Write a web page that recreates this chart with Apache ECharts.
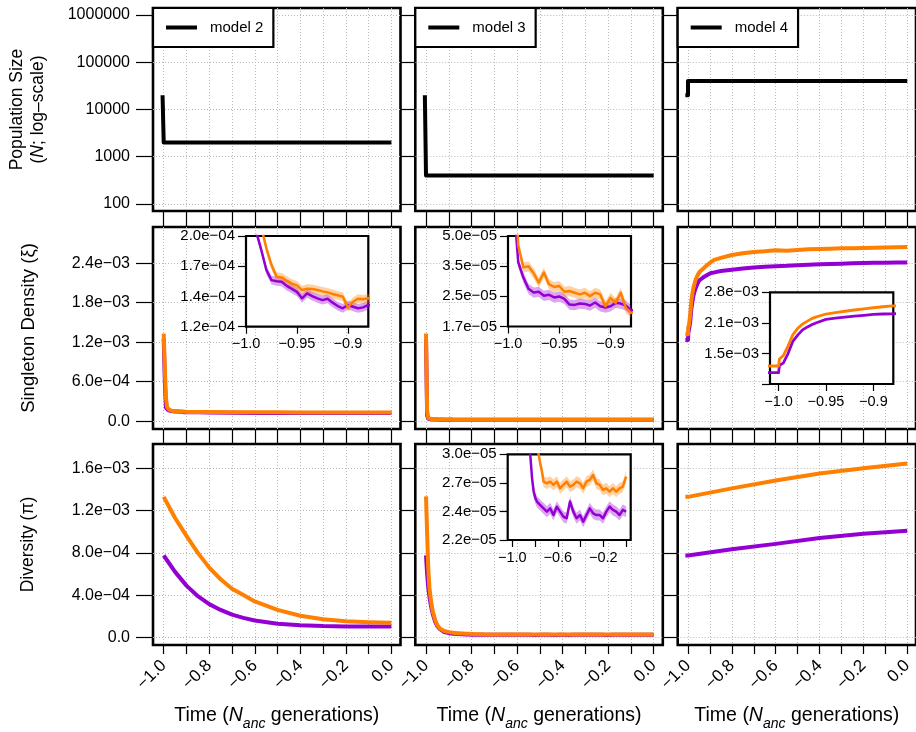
<!DOCTYPE html>
<html><head><meta charset="utf-8">
<script src="https://cdn.jsdelivr.net/npm/echarts@6/dist/echarts.min.js"></script>
<style>html,body{margin:0;padding:0;background:#fff}#c{width:916px;height:732px}</style>
</head><body><div id="c"></div><script>
// ---------------- DATA ----------------
const models = ['model 2', 'model 3', 'model 4'];

// Row 1: population size (N)
const popTime2 = [-1.005, -1.0, -1.0, 0.0];
const popSize2 = [20000, 20000, 2000, 2000];
const popTime3 = [-1.005, -1.0, -1.0, 0.0];
const popSize3 = [20000, 20000, 400, 400];
const popTime4 = [-1.012, -1.0, -1.0, 0.0];
const popSize4 = [20000, 20000, 40000, 40000];

// Row 2: singleton density, models 2 & 3 (shared time grid)
const sfsTime = [-1.0, -0.995, -0.99, -0.985, -0.98, -0.975, -0.97, -0.965, -0.96, -0.955, -0.95, -0.945, -0.94, -0.935, -0.93, -0.925, -0.92, -0.915, -0.91, -0.905, -0.9, -0.895, -0.89, -0.885, -0.88, -0.85, -0.8, -0.7, -0.6, -0.5, -0.4, -0.3, -0.2, -0.1, 0.0];
// model 2, units of 1e-4
const sfsOrange2 = [13.3, 8.0, 3.5, 2.1, 1.866, 1.698, 1.59, 1.584, 1.555, 1.53, 1.515, 1.475, 1.486, 1.484, 1.475, 1.464, 1.456, 1.443, 1.432, 1.421, 1.338, 1.381, 1.405, 1.40, 1.408, 1.39, 1.37, 1.35, 1.34, 1.33, 1.32, 1.32, 1.31, 1.31, 1.30];
const sfsPurple2 = [12.5, 6.0, 2.05, 1.848, 1.651, 1.56, 1.55, 1.546, 1.51, 1.485, 1.46, 1.408, 1.448, 1.426, 1.408, 1.394, 1.405, 1.374, 1.348, 1.331, 1.356, 1.343, 1.331, 1.338, 1.356, 1.33, 1.30, 1.27, 1.25, 1.24, 1.23, 1.23, 1.22, 1.22, 1.22];
// model 3, units of 1e-5
const sfsOrange3 = [133, 15, 4.47, 3.453, 3.50, 3.227, 2.886, 3.253, 2.83, 2.741, 2.774, 2.592, 2.613, 2.561, 2.511, 2.561, 2.461, 2.561, 2.511, 2.184, 2.413, 2.273, 2.561, 2.141, 2.02, 2.15, 2.10, 2.08, 2.06, 2.05, 2.04, 2.03, 2.02, 2.02, 2.01];
const sfsPurple3 = [125, 8, 3.666, 3.064, 2.687, 2.571, 2.592, 2.471, 2.501, 2.422, 2.451, 2.384, 2.228, 2.219, 2.254, 2.245, 2.202, 2.282, 2.184, 2.15, 2.184, 2.273, 2.254, 2.202, 2.082, 2.10, 2.08, 2.06, 2.05, 2.04, 2.03, 2.02, 2.02, 2.01, 2.00];
// model 4 singleton density, units of 1e-3
const sfsTime4 = [-1.012, -1.0, -0.999, -0.995, -0.99, -0.985, -0.98, -0.975, -0.97, -0.965, -0.96, -0.95, -0.94, -0.93, -0.92, -0.91, -0.9, -0.89, -0.88, -0.85, -0.8, -0.75, -0.7, -0.65, -0.6, -0.55, -0.5, -0.45, -0.4, -0.35, -0.3, -0.25, -0.2, -0.15, -0.1, -0.05, 0.0];
const sfsOrange4 = [1.32, 1.32, 1.42, 1.47, 1.62, 1.82, 1.94, 2.03, 2.09, 2.15, 2.19, 2.255, 2.29, 2.32, 2.35, 2.38, 2.405, 2.43, 2.45, 2.48, 2.525, 2.55, 2.57, 2.58, 2.595, 2.59, 2.60, 2.612, 2.615, 2.62, 2.626, 2.628, 2.632, 2.636, 2.64, 2.641, 2.645];
const sfsPurple4 = [1.232, 1.232, 1.33, 1.36, 1.5, 1.70, 1.81, 1.91, 1.97, 2.02, 2.06, 2.135, 2.16, 2.185, 2.205, 2.225, 2.245, 2.255, 2.26, 2.28, 2.30, 2.32, 2.335, 2.345, 2.355, 2.36, 2.37, 2.375, 2.383, 2.388, 2.393, 2.398, 2.402, 2.405, 2.407, 2.409, 2.41];

// Row 3: diversity
const piTime2 = [-1.0, -0.95, -0.9, -0.85, -0.8, -0.75, -0.7, -0.65, -0.6, -0.5, -0.4, -0.3, -0.2, -0.1, 0.0];
const piOrange2 = [1.33, 1.13, 0.96, 0.80, 0.66, 0.55, 0.46, 0.40, 0.34, 0.26, 0.205, 0.172, 0.152, 0.143, 0.138]; // 1e-3
const piPurple2 = [0.775, 0.62, 0.49, 0.39, 0.315, 0.26, 0.215, 0.185, 0.16, 0.13, 0.115, 0.107, 0.104, 0.103, 0.102]; // 1e-3
const piTime3 = [-1.0, -0.995, -0.99, -0.985, -0.98, -0.975, -0.97, -0.96, -0.95, -0.94, -0.92, -0.9, -0.88, -0.86, -0.841, -0.826, -0.812, -0.797, -0.783, -0.768, -0.754, -0.739, -0.725, -0.696, -0.667, -0.638, -0.609, -0.58, -0.551, -0.522, -0.493, -0.464, -0.435, -0.406, -0.377, -0.348, -0.319, -0.29, -0.261, -0.232, -0.203, -0.174, -0.145, -0.116, -0.087, -0.058, -0.029, 0.0];
const piOrange3 = [133.4, 98, 65, 47, 38, 30, 24.5, 16.5, 11.5, 8.5, 6.0, 5.0, 4.4, 4.0, 3.7, 3.5, 3.35, 3.2, 3.08, 3.0, 2.9, 2.818, 2.717, 2.701, 2.717, 2.685, 2.717, 2.653, 2.685, 2.717, 2.669, 2.685, 2.717, 2.701, 2.653, 2.717, 2.734, 2.784, 2.701, 2.685, 2.637, 2.653, 2.621, 2.653, 2.621, 2.653, 2.669, 2.767]; // 1e-5
const piPurple3 = [77.7, 60, 47, 39, 32, 26.5, 22, 15, 10.5, 8.0, 5.0, 4.0, 3.5, 3.2, 2.98, 2.75, 2.621, 2.56, 2.528, 2.51, 2.497, 2.48, 2.467, 2.438, 2.467, 2.408, 2.482, 2.438, 2.394, 2.38, 2.528, 2.438, 2.38, 2.408, 2.351, 2.408, 2.467, 2.423, 2.408, 2.408, 2.38, 2.438, 2.482, 2.453, 2.438, 2.408, 2.453, 2.438]; // 1e-5
const piTime4 = [-1.012, -1.0, -0.8, -0.6, -0.4, -0.2, 0.0];
const piOrange4 = [1.33, 1.33, 1.41, 1.485, 1.55, 1.60, 1.645]; // 1e-3
const piPurple4 = [0.775, 0.775, 0.835, 0.885, 0.94, 0.98, 1.01]; // 1e-3

// relative half-widths of the confidence bands seen in the insets
const bandSfs2 = 0.025, bandSfs3 = 0.06, bandPi3 = 0.02;

// Tick values / labels
const mainXTicks = [-1.0, -0.9, -0.8, -0.7, -0.6, -0.5, -0.4, -0.3, -0.2, -0.1, 0.0];
const mainXLabels = [-1.0, -0.8, -0.6, -0.4, -0.2, 0.0];
const popTicks = [100, 1000, 10000, 100000, 1000000];
const sfsTicks = [0, 6e-4, 1.2e-3, 1.8e-3, 2.4e-3];
const piTicks = [0, 4e-4, 8e-4, 1.2e-3, 1.6e-3];
const insetXTicksA = [-1.0, -0.95, -0.9];
const insetXLabelsA = ['\u22121.0', '\u22120.95', '\u22120.9'];
const insetXTicksB = [-1.0, -0.8, -0.6, -0.4, -0.2, 0.0];
const insetXLabelVB = [-1.0, -0.6, -0.2];
const insetXLabelsB = ['\u22121.0', '\u22120.6', '\u22120.2'];
const inY2Ticks = [1.2e-4, 1.4227e-4, 1.6867e-4, 2.0e-4];
const inY2Labels = ['1.2e\u221204', '1.4e\u221204', '1.7e\u221204', '2.0e\u221204'];
const inY3Ticks = [1.72e-5, 2.455e-5, 3.504e-5, 5.0e-5];
const inY3Labels = ['1.7e\u221205', '2.5e\u221205', '3.5e\u221205', '5.0e\u221205'];
const inY4Ticks = [1.097e-3, 1.503e-3, 2.059e-3, 2.82e-3];
const inY4Labels = ['', '1.5e\u221203', '2.1e\u221203', '2.8e\u221203'];
const inYdTicks = [2.2e-5, 2.4397e-5, 2.7055e-5, 3.0e-5];
const inYdLabels = ['2.2e\u221205', '2.4e\u221205', '2.7e\u221205', '3.0e\u221205'];

// ---------------- STYLE / LAYOUT ----------------
const FONT = '"Liberation Sans", Arial, Helvetica, sans-serif';
const ORANGE = '#FF7F00', PURPLE = '#9400D3';
const ORANGE_BAND = 'rgba(255,127,0,0.35)', PURPLE_BAND = 'rgba(148,0,211,0.35)';
const colLeft = [153, 415.3, 677.7], colWidth = 247.5;
const rowTop = [8, 227, 444], rowHeight = [203, 202, 203];
const X_MIN = -1.047, X_MAX = 0.04;
const GRIDLINE = {show: true, lineStyle: {type: [1, 2], color: '#b8b8b8', width: 1}};

function fmtExp(v) {
  if (Math.abs(v) < 1e-12) return '0.0';
  const p = v.toExponential(1).split('e');
  const e = parseInt(p[1], 10);
  return p[0] + 'e' + (e < 0 ? '\u2212' : '+') + String(Math.abs(e)).padStart(2, '0');
}
function fmtX(v) { return (Math.abs(v) < 1e-9 ? '0.0' : v.toFixed(1)).replace('-', '\u2212'); }
function lookup(ticks, labels) {
  return function (v) {
    let best = 0;
    for (let i = 1; i < ticks.length; i++) if (Math.abs(ticks[i] - v) < Math.abs(ticks[best] - v)) best = i;
    return labels[best];
  };
}

const grids = [], xAxes = [], yAxes = [], series = [];

const rowY = [
  {type: 'log', min: 70.8, max: 1.413e6, ticks: popTicks, fmt: v => String(Math.round(v))},
  {type: 'value', min: -1.2e-4, max: 2.95e-3, ticks: sfsTicks, fmt: fmtExp},
  {type: 'value', min: -7.2e-5, max: 1.83e-3, ticks: piTicks, fmt: fmtExp}
];
const yNames = [
  '{a|Population Size}\n{a|(}{i|N}{a|; log\u2013scale)}',
  '{b|Singleton Density (\u03BE)}',
  '{a|Diversity (\u03C0)}'
];
const yNameGap = [104, 114, 114];
const titleRich = {
  a: {fontSize: 17.5, fontFamily: FONT, color: '#000', lineHeight: 21},
  b: {fontSize: 18.5, fontFamily: FONT, color: '#000', lineHeight: 21},
  i: {fontSize: 17.5, fontFamily: FONT, color: '#000', lineHeight: 21, fontStyle: 'italic'}
};
const xTitle = '{t|Time (}{i|N}{s|anc}{t| generations)}';
const xTitleRich = {
  t: {fontSize: 19.5, fontFamily: FONT, color: '#000', lineHeight: 30},
  i: {fontSize: 19.5, fontFamily: FONT, color: '#000', lineHeight: 30, fontStyle: 'italic'},
  s: {fontSize: 14, fontFamily: FONT, color: '#000', lineHeight: 18, fontStyle: 'italic', verticalAlign: 'bottom'}
};

for (let r = 0; r < 3; r++) {
  for (let c = 0; c < 3; c++) {
    const idx = grids.length;
    grids.push({left: colLeft[c], top: rowTop[r], width: colWidth, height: rowHeight[r], show: true,
      backgroundColor: '#fff', borderColor: '#000', borderWidth: 2.6, z: 0});
    xAxes.push({
      gridIndex: idx, type: 'value', min: X_MIN, max: X_MAX, position: 'bottom',
      axisLine: {show: false, onZero: false},
      axisTick: {show: true, inside: false, length: r < 2 ? 16 : 9, lineStyle: {color: '#000', width: 1.2}, customValues: mainXTicks},
      axisLabel: {show: r === 2, customValues: mainXLabels, rotate: 45, margin: 18, fontSize: 17, color: '#000', fontFamily: FONT, formatter: fmtX},
      splitLine: GRIDLINE,
      name: r === 2 ? xTitle : '', nameLocation: 'middle', nameGap: 56,
      nameTextStyle: {rich: xTitleRich}
    });
    const ry = rowY[r];
    yAxes.push({
      gridIndex: idx, type: ry.type, min: ry.min, max: ry.max, position: 'left',
      axisLine: {show: false, onZero: false},
      axisTick: {show: true, inside: false, length: c === 0 ? 17 : 15, lineStyle: {color: '#000', width: 1.2}, customValues: ry.ticks},
      axisLabel: {show: c === 0, customValues: ry.ticks, margin: 23, fontSize: 16, color: '#000', fontFamily: FONT, formatter: ry.fmt},
      splitLine: GRIDLINE,
      name: c === 0 ? yNames[r] : '', nameLocation: 'middle', nameRotate: 90, nameGap: yNameGap[r],
      nameTextStyle: {rich: titleRich}
    });
  }
}

// insets: grid indices 9..12
const insets = [
  {left: 246, top: 236, width: 122.3, height: 90.7, xmin: -1.0, xmax: -0.88, xt: insetXTicksA, xl: insetXTicksA, xf: lookup(insetXTicksA, insetXLabelsA), ymin: 1.1999e-4, ymax: 2.0001e-4, yt: inY2Ticks, yf: lookup(inY2Ticks, inY2Labels)},
  {left: 508, top: 236, width: 123, height: 90.5, xmin: -1.0, xmax: -0.88, xt: insetXTicksA, xl: insetXTicksA, xf: lookup(insetXTicksA, insetXLabelsA), ymin: 1.7199e-5, ymax: 5.0001e-5, yt: inY3Ticks, yf: lookup(inY3Ticks, inY3Labels)},
  {left: 770, top: 292.3, width: 123.3, height: 91.7, xmin: -1.009, xmax: -0.879, xt: insetXTicksA, xl: insetXTicksA, xf: lookup(insetXTicksA, insetXLabelsA), ymin: 1.0969e-3, ymax: 2.8201e-3, yt: inY4Ticks, yf: lookup(inY4Ticks, inY4Labels)},
  {left: 507.7, top: 454.3, width: 123, height: 85.7, xmin: -1.04, xmax: 0.04, xt: insetXTicksB, xl: insetXLabelVB, xf: lookup(insetXLabelVB, insetXLabelsB), ymin: 2.1999e-5, ymax: 3.0001e-5, yt: inYdTicks, yf: lookup(inYdTicks, inYdLabels)}
];
insets.forEach(ins => {
  const idx = grids.length;
  grids.push({left: ins.left, top: ins.top, width: ins.width, height: ins.height, show: true,
    backgroundColor: '#fff', borderColor: '#000', borderWidth: 2.2, z: 5});
  xAxes.push({gridIndex: idx, type: 'value', min: ins.xmin, max: ins.xmax, z: 6, position: 'bottom',
    axisLine: {show: false, onZero: false},
    axisTick: {show: true, length: 7, lineStyle: {color: '#000', width: 1.2}, customValues: ins.xt},
    axisLabel: {show: true, customValues: ins.xl, margin: 10, fontSize: 14.5, color: '#000', fontFamily: FONT, formatter: ins.xf},
    splitLine: {show: false}});
  yAxes.push({gridIndex: idx, type: 'log', min: ins.ymin, max: ins.ymax, z: 6, position: 'left',
    axisLine: {show: false, onZero: false},
    axisTick: {show: true, length: 8, lineStyle: {color: '#000', width: 1.2}, customValues: ins.yt},
    axisLabel: {show: true, customValues: ins.yt, margin: 11, fontSize: 15, color: '#000', fontFamily: FONT, formatter: ins.yf},
    splitLine: {show: false}});
});

function addLine(name, ai, ts, vs, k, color, width, z) {
  series.push({name: name, type: 'line', xAxisIndex: ai, yAxisIndex: ai,
    data: ts.map((t, i) => [t, vs[i] * k]), symbol: 'none', showSymbol: false,
    lineStyle: {color: color, width: width, join: 'round'}, itemStyle: {color: color}, z: z, clip: true, silent: true});
}
// confidence band drawn as a polygon through the axes' own scales
function addBand(ai, ts, vs, k, rel, color, z) {
  const upper = ts.map((t, i) => [t, vs[i] * k * (1 + rel)]);
  const lower = ts.map((t, i) => [t, vs[i] * k * (1 - rel)]);
  series.push({type: 'custom', coordinateSystem: 'cartesian2d', xAxisIndex: ai, yAxisIndex: ai,
    clip: true, z: z, silent: true, data: [[ts[ts.length - 1], vs[vs.length - 1] * k]],
    renderItem: function (params, api) {
      const pts = upper.map(p => api.coord(p)).concat(lower.slice().reverse().map(p => api.coord(p)));
      return {type: 'polygon', shape: {points: pts}, style: {fill: color}};
    }});
}

// Row 1
addLine('model 2', 0, popTime2, popSize2, 1, '#000', 4, 2);
addLine('model 3', 1, popTime3, popSize3, 1, '#000', 4, 2);
addLine('model 4', 2, popTime4, popSize4, 1, '#000', 4, 2);
// Row 2 main
addLine('s2p', 3, sfsTime, sfsPurple2, 1e-4, PURPLE, 4, 2);
addLine('s2o', 3, sfsTime, sfsOrange2, 1e-4, ORANGE, 4, 3);
addLine('s3p', 4, sfsTime, sfsPurple3, 1e-5, PURPLE, 4, 2);
addLine('s3o', 4, sfsTime, sfsOrange3, 1e-5, ORANGE, 4, 3);
addLine('s4p', 5, sfsTime4, sfsPurple4, 1e-3, PURPLE, 4, 2);
addLine('s4o', 5, sfsTime4, sfsOrange4, 1e-3, ORANGE, 4, 3);
// Row 3 main
addLine('p2p', 6, piTime2, piPurple2, 1e-3, PURPLE, 4, 2);
addLine('p2o', 6, piTime2, piOrange2, 1e-3, ORANGE, 4, 3);
addLine('p3p', 7, piTime3, piPurple3, 1e-5, PURPLE, 4, 2);
addLine('p3o', 7, piTime3, piOrange3, 1e-5, ORANGE, 4, 3);
addLine('p4p', 8, piTime4, piPurple4, 1e-3, PURPLE, 4, 2);
addLine('p4o', 8, piTime4, piOrange4, 1e-3, ORANGE, 4, 3);
// Insets
addBand(9, sfsTime, sfsPurple2, 1e-4, bandSfs2, PURPLE_BAND, 7);
addBand(9, sfsTime, sfsOrange2, 1e-4, bandSfs2, ORANGE_BAND, 7);
addLine('i2p', 9, sfsTime, sfsPurple2, 1e-4, PURPLE, 2.5, 8);
addLine('i2o', 9, sfsTime, sfsOrange2, 1e-4, ORANGE, 2.5, 8);
addBand(10, sfsTime, sfsPurple3, 1e-5, bandSfs3, PURPLE_BAND, 7);
addBand(10, sfsTime, sfsOrange3, 1e-5, bandSfs3, ORANGE_BAND, 7);
addLine('i3p', 10, sfsTime, sfsPurple3, 1e-5, PURPLE, 2.5, 8);
addLine('i3o', 10, sfsTime, sfsOrange3, 1e-5, ORANGE, 2.5, 8);
addLine('i4p', 11, sfsTime4, sfsPurple4, 1e-3, PURPLE, 2.8, 8);
addLine('i4o', 11, sfsTime4, sfsOrange4, 1e-3, ORANGE, 2.8, 8);
addBand(12, piTime3, piPurple3, 1e-5, bandPi3, PURPLE_BAND, 7);
addBand(12, piTime3, piOrange3, 1e-5, bandPi3, ORANGE_BAND, 7);
addLine('idp', 12, piTime3, piPurple3, 1e-5, PURPLE, 2.5, 8);
addLine('ido', 12, piTime3, piOrange3, 1e-5, ORANGE, 2.5, 8);

const legends = models.map((m, i) => ({
  data: [m], left: colLeft[i], top: rowTop[0], orient: 'horizontal',
  icon: 'rect', itemWidth: 31, itemHeight: 4, padding: [12, 10, 12, 13],
  borderColor: '#000', borderWidth: 2.2, backgroundColor: '#fff', selectedMode: false, z: 10,
  textStyle: {fontSize: 15, color: '#000', fontFamily: FONT, padding: [0, 0, 0, 8]}
}));

const chart = echarts.init(document.getElementById('c'), null, {renderer: 'canvas'});
chart.setOption({
  animation: false,
  backgroundColor: '#fff',
  textStyle: {fontFamily: FONT},
  legend: legends,
  grid: grids, xAxis: xAxes, yAxis: yAxes, series: series
});
</script></body></html>
